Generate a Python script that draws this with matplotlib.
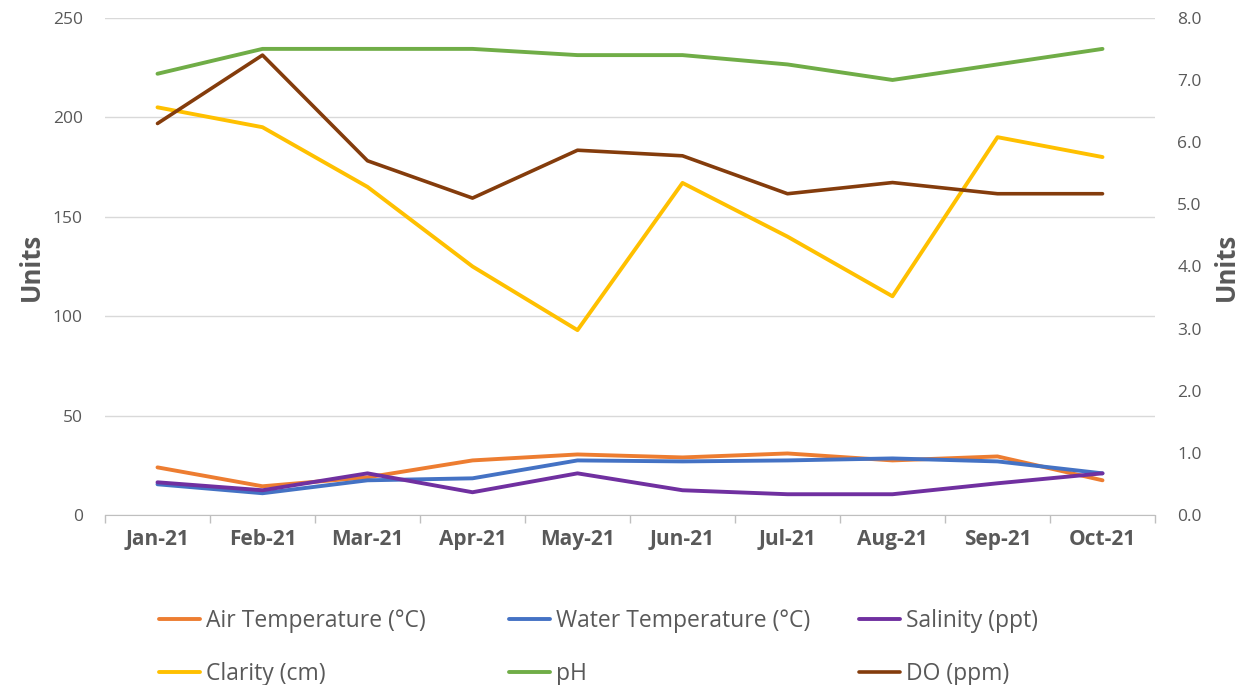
import numpy as np
import matplotlib
matplotlib.use('Agg')
import matplotlib.pyplot as plt

plt.rcParams['font.family'] = ['Open Sans', 'DejaVu Sans']

months = ['Jan-21', 'Feb-21', 'Mar-21', 'Apr-21', 'May-21',
          'Jun-21', 'Jul-21', 'Aug-21', 'Sep-21', 'Oct-21']

# left axis series
air_temp = [24, 14.5, 19, 27.5, 30.5, 29, 31, 27.5, 29.5, 17.5]
water_temp = [15.5, 11, 17.5, 18.5, 27.5, 27, 27.5, 28.5, 27, 21]
salinity = [16.5, 12.5, 21, 11.5, 21, 12.5, 10.5, 10.5, 16, 21]
clarity = [205, 195, 165, 125, 93, 167, 140, 110, 190, 180]

# right axis series
ph = [7.1, 7.5, 7.5, 7.5, 7.4, 7.4, 7.25, 7.0, 7.25, 7.5]
do = [6.3, 7.4, 5.7, 5.1, 5.87, 5.78, 5.17, 5.35, 5.17, 5.17]

grey = '#595959'
x = np.arange(len(months))

fig = plt.figure(figsize=(12.5, 6.85), dpi=100)
ax = fig.add_axes([0.084, 0.248, 0.84, 0.726])
ax2 = ax.twinx()

l_air, = ax.plot(x, air_temp, color='#ED7D31', lw=2.8, solid_capstyle='round')
l_water, = ax.plot(x, water_temp, color='#4472C4', lw=2.8, solid_capstyle='round')
l_sal, = ax.plot(x, salinity, color='#7030A0', lw=2.8, solid_capstyle='round')
l_cla, = ax.plot(x, clarity, color='#FFC000', lw=2.8, solid_capstyle='round')
l_ph, = ax2.plot(x, ph, color='#70AD47', lw=2.8, solid_capstyle='round')
l_do, = ax2.plot(x, do, color='#843C0C', lw=2.6, solid_capstyle='round')

ax.set_ylim(0, 250)
ax.set_yticks(np.arange(0, 251, 50))
ax2.set_ylim(0, 8)
ax2.set_yticks(np.arange(0, 8.1, 1))
ax2.set_yticklabels(['%.1f' % v for v in np.arange(0, 8.1, 1)])
ax.set_xlim(-0.5, len(months) - 0.5)
ax.set_xticks(x)
ax.set_xticklabels(months, fontsize=15, fontweight='bold', color=grey)
ax.set_xticks(np.arange(-0.5, len(months)), minor=True)
ax.tick_params(axis='x', which='major', length=0, pad=10)
ax.tick_params(axis='x', which='minor', length=6, color='#bfbfbf', width=1)
ax.tick_params(axis='y', length=0, labelsize=12.5, labelcolor=grey, pad=16)
ax2.tick_params(axis='y', length=0, labelsize=12.5, labelcolor=grey, pad=16)

ax.grid(axis='y', color='#d9d9d9', lw=1)
ax.set_axisbelow(True)
for s in ['top', 'left', 'right']:
    ax.spines[s].set_visible(False)
    ax2.spines[s].set_visible(False)
ax.spines['bottom'].set_color('#bfbfbf')
ax2.spines['bottom'].set_visible(False)

ax.set_ylabel('Units', fontsize=18.5, fontweight='bold', color=grey, labelpad=6)
ax2.set_ylabel('Units', fontsize=18.5, fontweight='bold', color=grey, labelpad=8)

cols = [[l_air, l_cla], [l_water, l_ph], [l_sal, l_do]]
names = [['Air Temperature (°C)', 'Clarity (cm)'],
         ['Water Temperature (°C)', 'pH'],
         ['Salinity (ppt)', 'DO (ppm)']]
for i, (hs, ns) in enumerate(zip(cols, names)):
    fig.legend(hs, ns, loc='upper left', bbox_to_anchor=(0.12 + i * 0.28, 0.125),
               frameon=False, fontsize=16.5, handlelength=1.8, handletextpad=0.25,
               labelspacing=1.3, labelcolor=grey, borderaxespad=0)

fig.savefig('out.png', dpi=100)
